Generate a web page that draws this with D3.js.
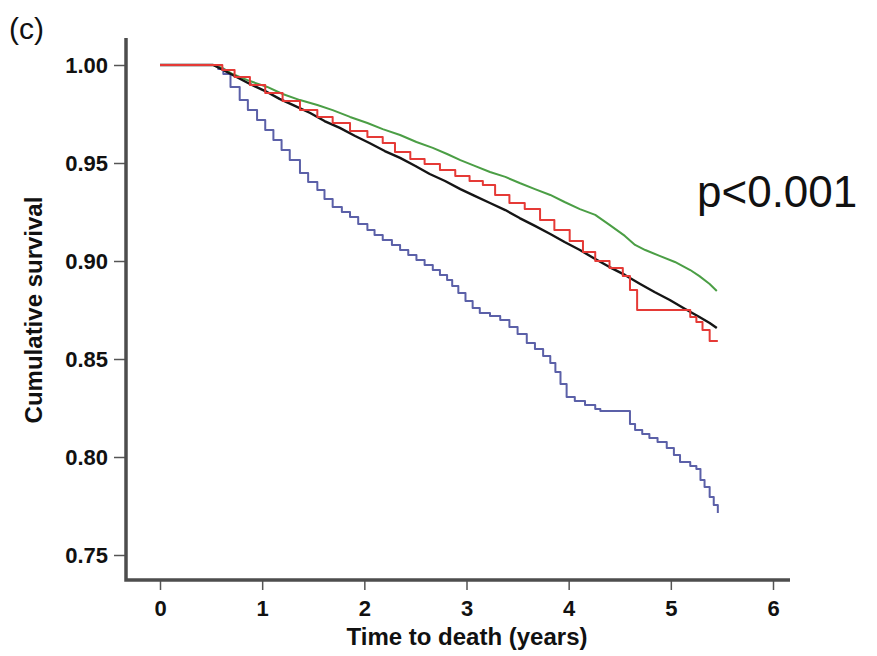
<!DOCTYPE html>
<html>
<head>
<meta charset="utf-8">
<script src="https://cdn.jsdelivr.net/npm/d3@7"></script>
<style>
  body { margin: 0; background: #fff; }
  svg { display: block; }
  .tick text { font-family: "Liberation Sans", Arial, sans-serif; font-weight: bold; font-size: 22px; fill: #111; }
  .axis-label { font-family: "Liberation Sans", Arial, sans-serif; font-weight: bold; font-size: 24px; fill: #111; }
  .annot { font-family: "Liberation Sans", Arial, sans-serif; fill: #111; }
</style>
</head>
<body>
<div id="main"></div>
<script>
// survival curves (time in years, cumulative survival)
const greenTime = [0, 0.52, 0.61, 0.71, 0.88, 1.05, 1.20, 1.37, 1.54, 1.69, 1.86, 2.03, 2.18, 2.35, 2.51, 2.67, 2.81, 2.94, 3.08, 3.23, 3.38, 3.52, 3.67, 3.82, 3.96, 4.11, 4.26, 4.40, 4.55, 4.65, 4.75, 4.89, 5.04, 5.19, 5.28, 5.38, 5.45];
const greenSurv = [1, 1, 0.9985, 0.9954, 0.9918, 0.9888, 0.9852, 0.9821, 0.9796, 0.9770, 0.9735, 0.9704, 0.9673, 0.9643, 0.9607, 0.9577, 0.9546, 0.9515, 0.9485, 0.9454, 0.9429, 0.9398, 0.9367, 0.9337, 0.9301, 0.9265, 0.9235, 0.9184, 0.9128, 0.9082, 0.9056, 0.9026, 0.8995, 0.8954, 0.8923, 0.8883, 0.8847];

const blackTime = [0, 0.52, 0.59, 0.73, 0.88, 1.03, 1.17, 1.32, 1.47, 1.61, 1.76, 1.91, 2.05, 2.20, 2.35, 2.50, 2.64, 2.79, 2.94, 3.08, 3.23, 3.38, 3.52, 3.67, 3.82, 3.96, 4.11, 4.26, 4.40, 4.55, 4.70, 4.84, 4.99, 5.14, 5.28, 5.38, 5.45];
const blackSurv = [1, 1, 0.9982, 0.9944, 0.9903, 0.9867, 0.9827, 0.9791, 0.9755, 0.9714, 0.9679, 0.9638, 0.9602, 0.9561, 0.9526, 0.9485, 0.9444, 0.9408, 0.9367, 0.9332, 0.9296, 0.9260, 0.9219, 0.9179, 0.9138, 0.9097, 0.9056, 0.9010, 0.8969, 0.8929, 0.8883, 0.8842, 0.8801, 0.8755, 0.8714, 0.8684, 0.8658];

const redTime = [0, 0.52, 0.61, 0.73, 0.88, 1.03, 1.20, 1.37, 1.54, 1.69, 1.86, 2.03, 2.18, 2.30, 2.45, 2.59, 2.74, 2.89, 3.03, 3.16, 3.28, 3.42, 3.57, 3.72, 3.86, 4.01, 4.14, 4.26, 4.40, 4.53, 4.60, 4.67, 5.19, 5.25, 5.31, 5.38, 5.46];
const redSurv = [1, 1, 0.9974, 0.9939, 0.9898, 0.9857, 0.9816, 0.9770, 0.9735, 0.9704, 0.9663, 0.9633, 0.9602, 0.9556, 0.9520, 0.9495, 0.9464, 0.9434, 0.9408, 0.9388, 0.9337, 0.9296, 0.9265, 0.9209, 0.9158, 0.9102, 0.9046, 0.9000, 0.8964, 0.8923, 0.8852, 0.8750, 0.8714, 0.8689, 0.8648, 0.8592, 0.8592];

const blueTime = [0, 0.52, 0.57, 0.62, 0.69, 0.78, 0.86, 0.95, 1.03, 1.11, 1.19, 1.27, 1.37, 1.45, 1.54, 1.61, 1.69, 1.78, 1.86, 1.94, 2.03, 2.10, 2.18, 2.27, 2.35, 2.43, 2.51, 2.59, 2.67, 2.74, 2.81, 2.86, 2.92, 2.99, 3.06, 3.13, 3.23, 3.33, 3.42, 3.50, 3.59, 3.67, 3.75, 3.82, 3.87, 3.92, 3.98, 4.06, 4.16, 4.26, 4.31, 4.60, 4.65, 4.72, 4.79, 4.87, 4.96, 5.03, 5.09, 5.19, 5.25, 5.29, 5.33, 5.38, 5.42, 5.46];
const blueSurv = [1, 1, 0.9980, 0.9954, 0.9888, 0.9821, 0.9770, 0.9719, 0.9668, 0.9617, 0.9566, 0.9515, 0.9449, 0.9403, 0.9362, 0.9316, 0.9276, 0.9250, 0.9224, 0.9189, 0.9158, 0.9133, 0.9107, 0.9082, 0.9056, 0.9031, 0.9005, 0.8980, 0.8954, 0.8929, 0.8903, 0.8872, 0.8837, 0.8796, 0.8760, 0.8735, 0.8719, 0.8699, 0.8663, 0.8628, 0.8582, 0.8551, 0.8515, 0.8480, 0.8434, 0.8372, 0.8306, 0.8286, 0.8265, 0.8245, 0.8235, 0.8168, 0.8138, 0.8117, 0.8097, 0.8077, 0.8046, 0.8010, 0.7974, 0.7954, 0.7939, 0.7883, 0.7847, 0.7796, 0.7755, 0.7714];

const xTicks = [0, 1, 2, 3, 4, 5, 6];
const yTicks = [0.75, 0.80, 0.85, 0.90, 0.95, 1.00];

const width = 877;
const height = 656;

const svg = d3.select('#main')
  .append('svg')
  .attr('width', width)
  .attr('height', height);

const xScale = d3.scaleLinear().domain([0, 6]).range([160, 773]);
const yScale = d3.scaleLinear().domain([0.75, 1.0]).range([555, 65]);

const axisX = 126;   // y axis position
const axisY = 580;   // x axis position

// axes
const yAxisG = svg.append('g')
  .attr('transform', `translate(${axisX},0)`)
  .call(d3.axisLeft(yScale).tickValues(yTicks).tickFormat(d3.format('.2f')).tickSize(12).tickPadding(6));
yAxisG.select('.domain').remove();
yAxisG.selectAll('.tick line').attr('stroke', '#555').attr('stroke-width', 1.5);

const xAxisG = svg.append('g')
  .attr('transform', `translate(0,${axisY})`)
  .call(d3.axisBottom(xScale).tickValues(xTicks).tickFormat(d3.format('d')).tickSize(10).tickPadding(10));
xAxisG.select('.domain').remove();
xAxisG.selectAll('.tick line').attr('stroke', '#555').attr('stroke-width', 1.5);

svg.append('path')
  .attr('d', `M${axisX},38V${axisY}H790`)
  .attr('fill', 'none')
  .attr('stroke', '#4d4d4d')
  .attr('stroke-width', 3.5);

// curves: green and black look smooth, red and blue show visible steps
const series = [
  { time: greenTime, surv: greenSurv, color: '#4b9e45', w: 2, curve: d3.curveLinear },
  { time: blueTime, surv: blueSurv, color: '#5b60a8', w: 2, curve: d3.curveStepAfter },
  { time: blackTime, surv: blackSurv, color: '#151515', w: 2.4, curve: d3.curveLinear },
  { time: redTime, surv: redSurv, color: '#e53a36', w: 2, curve: d3.curveStepAfter }
];

series.forEach(s => {
  const lineGenerator = d3.line()
    .x(d => xScale(d[0]))
    .y(d => yScale(d[1]))
    .curve(s.curve);
  svg.append('path')
    .attr('d', lineGenerator(d3.zip(s.time, s.surv)))
    .attr('fill', 'none')
    .attr('stroke', s.color)
    .attr('stroke-width', s.w)
    .attr('stroke-linejoin', 'round');
});

// labels
svg.append('text')
  .attr('class', 'axis-label')
  .attr('transform', 'translate(42,310) rotate(-90)')
  .attr('text-anchor', 'middle')
  .text('Cumulative survival');

svg.append('text')
  .attr('class', 'axis-label')
  .attr('x', 467)
  .attr('y', 645)
  .attr('text-anchor', 'middle')
  .text('Time to death (years)');

svg.append('text')
  .attr('class', 'annot')
  .attr('x', 9)
  .attr('y', 39)
  .attr('font-size', 30)
  .text('(c)');

svg.append('text')
  .attr('class', 'annot')
  .attr('x', 697)
  .attr('y', 207)
  .attr('font-size', 44)
  .text('p<0.001');
</script>
</body>
</html>
